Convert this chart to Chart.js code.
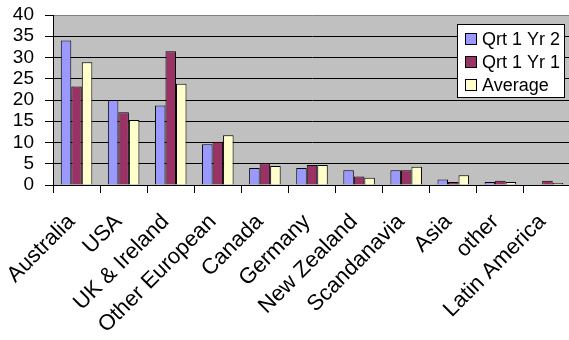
<!DOCTYPE html>
<html>
<head>
<meta charset="utf-8">
<script src="https://cdn.jsdelivr.net/npm/chart.js@4/dist/chart.umd.min.js"></script>
<style>
  html, body { margin: 0; padding: 0; background: #fff; overflow: hidden; }
  #wrap { width: 569px; height: 340px; overflow: hidden; position: relative; }
  canvas { display: block; }
</style>
</head>
<body>
<div id="wrap"><canvas id="c" width="572" height="340"></canvas></div>
<script>
// Visitor origin by region
const regions = ['Australia', 'USA', 'UK & Ireland', 'Other European', 'Canada', 'Germany',
                 'New Zealand', 'Scandanavia', 'Asia', 'other', 'Latin America'];
const qrt1Yr2 = [34, 20, 18.7, 9.6, 4.0, 4.0, 3.5, 3.5, 1.3, 0.7, 0];
const qrt1Yr1 = [23.2, 17.1, 31.5, 10.2, 5.1, 4.7, 2.0, 3.5, 0.7, 1.0, 1.0];
const average = [28.9, 15.3, 23.8, 11.7, 4.5, 4.7, 1.7, 4.3, 2.3, 0.7, 0.5];
const seriesNames = ['Qrt 1 Yr 2', 'Qrt 1 Yr 1', 'Average'];
const yTicks = [0, 5, 10, 15, 20, 25, 30, 35, 40];

const FONT = "'Liberation Sans', Arial, sans-serif";

// Grey plot-area fill behind the bars
const plotBackground = {
  id: 'plotBackground',
  beforeDraw(chart) {
    const { ctx, chartArea: a } = chart;
    ctx.save();
    ctx.fillStyle = '#C0C0C0';
    ctx.fillRect(a.left, a.top, a.right - a.left, a.bottom - a.top);
    ctx.restore();
  }
};

// Boxed legend sitting in the upper right of the plot area
const boxLegend = {
  id: 'boxLegend',
  afterDraw(chart) {
    const ctx = chart.ctx;
    const x0 = 457, y0 = 24, w = 107, h = 73;
    ctx.save();
    ctx.fillStyle = '#fff';
    ctx.fillRect(x0, y0, w, h);
    ctx.strokeStyle = '#000';
    ctx.lineWidth = 1;
    ctx.strokeRect(x0 + 0.5, y0 + 0.5, w, h);
    ctx.font = '18px ' + FONT;
    ctx.textBaseline = 'middle';
    ctx.textAlign = 'left';
    chart.data.datasets.forEach((ds, i) => {
      const cy = 39 + i * 23;
      ctx.fillStyle = ds.backgroundColor;
      ctx.fillRect(465, cy - 5.5, 11, 11);
      ctx.strokeStyle = '#000';
      ctx.strokeRect(465.5, cy - 5.5, 11, 11);
      ctx.fillStyle = '#000';
      ctx.fillText(ds.label, 482, cy + 1);
    });
    ctx.restore();
  }
};

const colors = ['#9999FF', '#993366', '#FFFFCC'];
const values = [qrt1Yr2, qrt1Yr1, average];

new Chart(document.getElementById('c'), {
  type: 'bar',
  data: {
    labels: regions,
    datasets: values.map((v, i) => ({
      label: seriesNames[i],
      data: v,
      backgroundColor: colors[i],
      borderColor: '#000',
      borderWidth: 1,
      borderSkipped: 'bottom',
      categoryPercentage: 0.67,
      barPercentage: 1.0
    }))
  },
  options: {
    responsive: false,
    animation: false,
    devicePixelRatio: 1,
    layout: { padding: { top: 15, right: 1, left: 0, bottom: 0 } },
    plugins: {
      legend: { display: false },
      tooltip: { enabled: false }
    },
    scales: {
      x: {
        offset: true,
        grid: {
          display: true,
          drawOnChartArea: false,
          offset: true,
          color: '#000',
          tickLength: 8,
          tickColor: '#000'
        },
        border: { display: true, color: '#000', width: 1 },
        ticks: {
          color: '#000',
          font: { family: FONT, size: 22 },
          maxRotation: 45,
          minRotation: 45,
          autoSkip: false,
          padding: 16,
          labelOffset: -5
        },
        afterFit(scale) {
          scale.height = 155;
          scale.paddingLeft = 0;
          scale.paddingRight = 0;
        }
      },
      y: {
        min: 0,
        max: 40,
        afterBuildTicks(scale) {
          scale.ticks = yTicks.map(v => ({ value: v }));
        },
        grid: {
          color: (c) => (c.tick && c.tick.value === 40 ? '#808080' : '#000'),
          tickColor: '#000',
          tickLength: 8,
          lineWidth: 1
        },
        border: { display: true, color: '#000', width: 1 },
        ticks: {
          color: '#000',
          font: { family: FONT, size: 19 },
          padding: 11,
          autoSkip: false
        },
        afterFit(scale) {
          scale.width = 53;
          scale.paddingTop = 0;
          scale.paddingBottom = 0;
        }
      }
    }
  },
  plugins: [plotBackground, boxLegend]
});
</script>
</body>
</html>
